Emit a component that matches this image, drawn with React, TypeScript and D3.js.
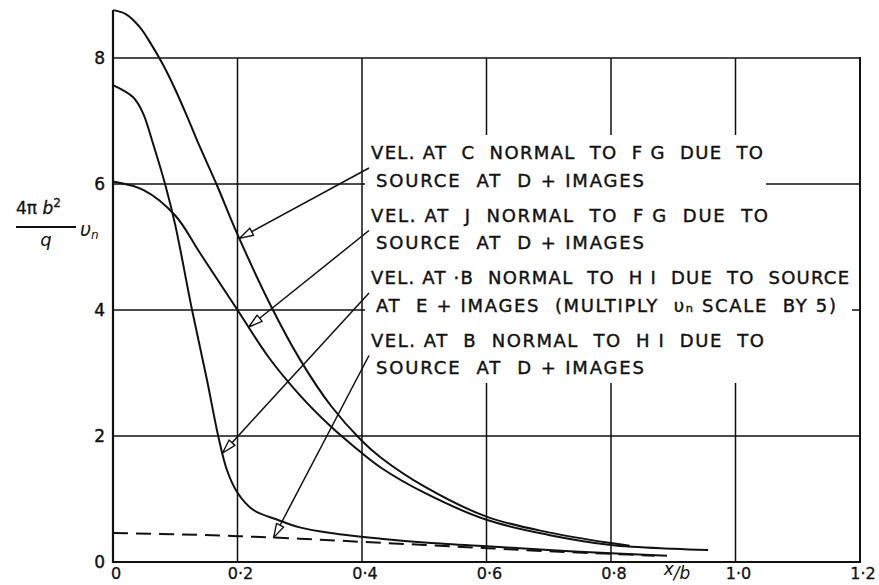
import React from 'react';
import * as d3 from 'd3';

// Axis ticks
const xTicks = [0, 0.2, 0.4, 0.6, 0.8, 1.0, 1.2];
const xTickLabels = ['0', '0·2', '0·4', '0·6', '0·8', '1·0', '1·2'];
const yTicks = [0, 2, 4, 6, 8];
const yTickLabels = ['0', '2', '4', '6', '8'];

// Velocity at C normal to FG, source at D + images
const cX = [0, 0.02, 0.043, 0.06, 0.08, 0.1, 0.12, 0.14, 0.167, 0.2, 0.257, 0.3, 0.35, 0.4, 0.43, 0.5, 0.6, 0.7, 0.8, 0.83];
const cV = [8.76, 8.7, 8.49, 8.24, 7.9, 7.5, 7.05, 6.58, 5.98, 5.2, 4.0, 3.22, 2.48, 1.92, 1.66, 1.2, 0.72, 0.47, 0.3, 0.26];

// Velocity at J normal to FG, source at D + images
const jX = [0, 0.05, 0.1, 0.14, 0.2, 0.25, 0.3, 0.35, 0.385, 0.43, 0.5, 0.6, 0.7, 0.8, 0.9, 0.956];
const jV = [6.04, 5.9, 5.5, 4.9, 4.0, 3.25, 2.65, 2.15, 1.85, 1.5, 1.1, 0.67, 0.43, 0.27, 0.21, 0.19];

// Velocity at B normal to HI, source at E + images (vn scale x5)
const eX = [0, 0.032, 0.048, 0.064, 0.085, 0.1, 0.127, 0.151, 0.169, 0.183, 0.2, 0.225, 0.264, 0.3, 0.35, 0.43, 0.5, 0.6, 0.7, 0.8, 0.89];
const eV = [7.57, 7.38, 7.13, 6.65, 5.95, 5.35, 4.0, 2.89, 2.0, 1.46, 1.1, 0.83, 0.67, 0.55, 0.46, 0.37, 0.31, 0.25, 0.19, 0.14, 0.1];

// Velocity at B normal to HI, source at D + images (dashed)
const dX = [0, 0.1, 0.2, 0.3, 0.4, 0.5, 0.6, 0.7, 0.8, 0.87];
const dV = [0.46, 0.44, 0.41, 0.37, 0.32, 0.27, 0.22, 0.17, 0.13, 0.1];

// Annotation text, two lines per curve
const noteLines = [
  'VEL. AT  C  NORMAL  TO  F G  DUE  TO',
  'SOURCE  AT  D + IMAGES',
  'VEL. AT  J  NORMAL  TO  F G  DUE  TO',
  'SOURCE  AT  D + IMAGES',
  'VEL. AT ·B  NORMAL  TO  H I  DUE  TO  SOURCE',
  'AT  E + IMAGES  (MULTIPLY  υₙ SCALE  BY 5)',
  'VEL. AT  B  NORMAL  TO  H I  DUE  TO',
  'SOURCE  AT  D + IMAGES',
];
// x position on each curve that its leader points to
const arrowAt = [0.203, 0.218, 0.176, 0.258];

const W = 879;
const H = 585;
const INK = '#111';
const FONT = '"DejaVu Sans", sans-serif';

export default function App() {
  const x = d3.scaleLinear().domain([0, 1.2]).range([113, 860]);
  const y = d3.scaleLinear().domain([0, 8]).range([562, 58]);
  const line = d3
    .line<[number, number]>()
    .x((d) => x(d[0]))
    .y((d) => y(d[1]))
    .curve(d3.curveCatmullRom.alpha(0.5));

  const series = [
    { xs: cX, vs: cV, dash: undefined as string | undefined },
    { xs: jX, vs: jV, dash: undefined },
    { xs: eX, vs: eV, dash: undefined },
    { xs: dX, vs: dV, dash: '15,8' },
  ];

  // text layout
  const baselines = [159, 187, 222, 249, 284, 312, 347, 374];
  const lefts = [371, 376, 371, 376, 371, 376, 371, 376];
  const ends = [763, 644, 768, 644, 849, 836, 764, 644];
  const textTop = 135;
  const textBottom = 383;
  const maskLeft = 365;

  const leaders = series.map((s, i) => {
    const interp = d3.scaleLinear().domain(s.xs).range(s.vs);
    const tip: [number, number] = [x(arrowAt[i]), y(interp(arrowAt[i]))];
    const b0 = baselines[2 * i];
    const b1 = baselines[2 * i + 1];
    const tail: [number, number] = [lefts[2 * i] - 2, (b0 + b1) / 2 - 5];
    const dx = tail[0] - tip[0];
    const dy = tail[1] - tip[1];
    const len = Math.hypot(dx, dy);
    const ux = dx / len;
    const uy = dy / len;
    const base: [number, number] = [tip[0] + ux * 14, tip[1] + uy * 14];
    const nx = -uy * 4;
    const ny = ux * 4;
    const head = [
      tip,
      [base[0] + nx, base[1] + ny],
      [base[0] - nx, base[1] - ny],
    ]
      .map((p) => p.join(','))
      .join(' ');
    return { tip, tail, base, head };
  });

  return (
    <svg
      width={W}
      height={H}
      viewBox={`0 0 ${W} ${H}`}
      style={{ position: 'absolute', left: 0, top: 0, background: '#fff' }}
    >
      <rect x={0} y={0} width={W} height={H} fill="#fff" />

      {/* vertical grid */}
      {xTicks.slice(1, -1).map((t) => (
        <line key={'vx' + t} x1={x(t)} x2={x(t)} y1={y(8)} y2={y(0)} stroke={INK} strokeWidth={1.5} />
      ))}
      {/* verticals are left out behind the annotation block */}
      <rect x={maskLeft} y={textTop} width={x(1.2) - maskLeft - 6} height={textBottom - textTop} fill="#fff" />

      {/* horizontal grid */}
      {yTicks.slice(1).map((t) => (
        <line key={'hy' + t} x1={x(0)} x2={x(1.2)} y1={y(t)} y2={y(t)} stroke={INK} strokeWidth={1.5} />
      ))}
      {/* per-annotation clearings */}
      {[0, 1, 2, 3].map((i) => {
        const b0 = baselines[2 * i];
        const b1 = baselines[2 * i + 1];
        const right = Math.max(ends[2 * i], ends[2 * i + 1]) + 3;
        return <rect key={'m' + i} x={maskLeft} y={b0 - 16} width={right - maskLeft} height={b1 + 5 - (b0 - 16)} fill="#fff" />;
      })}

      {/* axes and frame */}
      <line x1={x(0)} x2={x(0)} y1={10} y2={y(0) + 1} stroke={INK} strokeWidth={2.2} />
      <line x1={x(0)} x2={x(1.2) + 1} y1={y(0)} y2={y(0)} stroke={INK} strokeWidth={2.2} />
      <line x1={x(1.2)} x2={x(1.2)} y1={y(8) - 1} y2={y(0)} stroke={INK} strokeWidth={2} />

      {/* curves */}
      {series.map((s, i) => (
        <path
          key={'s' + i}
          d={line(s.xs.map((v, k) => [v, s.vs[k]] as [number, number])) || ''}
          fill="none"
          stroke={INK}
          strokeWidth={2}
          strokeDasharray={s.dash}
        />
      ))}

      {/* leaders */}
      {leaders.map((l, i) => (
        <g key={'l' + i}>
          <line x1={l.tail[0]} y1={l.tail[1]} x2={l.base[0]} y2={l.base[1]} stroke={INK} strokeWidth={1.5} />
          <polygon points={l.head} fill="#fff" stroke={INK} strokeWidth={1.4} strokeLinejoin="round" />
        </g>
      ))}

      {/* annotation text */}
      {noteLines.map((s, i) => (
        <text
          key={'t' + i}
          x={lefts[i]}
          y={baselines[i]}
          fontFamily={FONT}
          fontSize={18}
          fill={INK}
          stroke={INK}
          strokeWidth={0.4}
          textLength={ends[i] - lefts[i]}
          lengthAdjust="spacing"
          style={{ whiteSpace: 'pre' }}
        >
          {s}
        </text>
      ))}

      {/* y tick labels */}
      {yTicks.map((t, i) => (
        <text key={'yl' + t} x={105} y={y(t) + 6} textAnchor="end" fontFamily={FONT} fontSize={17} fill={INK} stroke={INK} strokeWidth={0.4}>
          {yTickLabels[i]}
        </text>
      ))}
      {/* x tick labels */}
      {xTicks.map((t, i) => (
        <text key={'xl' + t} x={x(t) + 3} y={579} textAnchor="middle" fontFamily={FONT} fontSize={16} fill={INK} stroke={INK} strokeWidth={0.3}>
          {xTickLabels[i]}
        </text>
      ))}
      {/* x axis title */}
      <text x={677} y={579} textAnchor="middle" fontFamily={FONT} fontSize={17} fill={INK} fontStyle="italic">
        <tspan dy={-4}>x</tspan>
        <tspan dy={4}>/</tspan>
        <tspan>b</tspan>
      </text>

      {/* y axis title */}
      <g fontFamily={FONT} fill={INK}>
        <text x={16} y={214} fontSize={17} stroke={INK} strokeWidth={0.3}>
          4π <tspan fontStyle="italic">b</tspan>
          <tspan dy={-7} fontSize={12}>2</tspan>
        </text>
        <line x1={16} x2={76} y1={227} y2={227} stroke={INK} strokeWidth={2} />
        <text x={46} y={246} fontSize={18} fontStyle="italic" textAnchor="middle">q</text>
        <text x={80} y={236} fontSize={19} fontStyle="italic">
          υ<tspan dy={3} fontSize={12}>n</tspan>
        </text>
      </g>
    </svg>
  );
}
